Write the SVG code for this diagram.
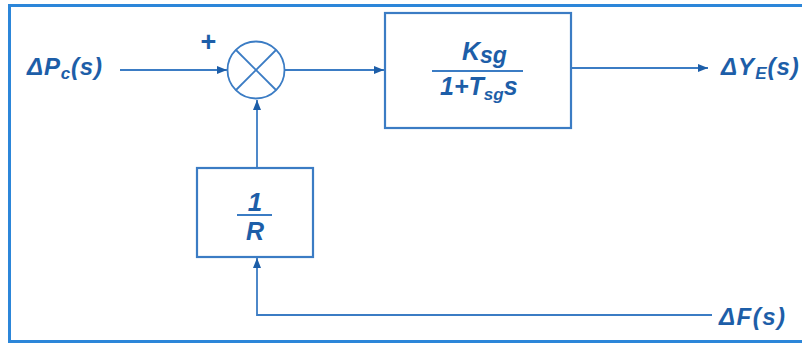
<svg xmlns="http://www.w3.org/2000/svg" width="802" height="345" viewBox="0 0 802 345">
  <style>
    .ln { fill: none; stroke: #3b7cc4; stroke-width: 1.8; }
    .box { fill: #ffffff; stroke: #3b7cc4; stroke-width: 2.2; }
    .t { font-family: "Liberation Sans", Arial, sans-serif; font-weight: bold; font-style: italic; fill: #1d5ea8; }
    .frame { fill: none; stroke: #2c86d9; stroke-width: 3; }
  </style>
  <defs>
    <marker id="arr" viewBox="0 0 10 8" refX="10" refY="4" markerWidth="10" markerHeight="8" markerUnits="userSpaceOnUse" orient="auto">
      <path d="M0,0 L10,4 L0,8 Z" fill="#1d5ea8"/>
    </marker>
  </defs>
  <rect width="802" height="345" fill="#ffffff"/>
  <rect class="frame" x="9.5" y="5.5" width="800" height="336"/>

  <g id="connectors">
    <line class="ln" x1="120" y1="70" x2="227" y2="70" marker-end="url(#arr)"/>
    <line class="ln" x1="285" y1="70" x2="384" y2="70" marker-end="url(#arr)"/>
    <line class="ln" x1="571" y1="68" x2="708" y2="68" marker-end="url(#arr)"/>
    <line class="ln" x1="257" y1="168" x2="257" y2="100" marker-end="url(#arr)"/>
    <polyline class="ln" points="712,315 257,315 257,258" marker-end="url(#arr)"/>
  </g>

  <g id="input-label">
    <text class="t" x="27" y="75" font-size="24" letter-spacing="0.8">ΔP<tspan font-size="17" dy="4">c</tspan><tspan dy="-4">(s)</tspan></text>
  </g>

  <g id="summing-junction">
    <circle cx="256" cy="70" r="28.5" fill="#ffffff" stroke="#3b7cc4" stroke-width="1.8"/>
    <line class="ln" x1="236" y1="50" x2="276" y2="90"/>
    <line class="ln" x1="276" y1="50" x2="236" y2="90"/>
    <text class="t" x="208" y="51" font-size="27" font-style="normal" text-anchor="middle">+</text>
  </g>

  <g id="governor-block">
    <rect class="box" x="385" y="13" width="186" height="115"/>
    <text class="t" x="462" y="60" font-size="25">K<tspan font-size="23" dy="3">sg</tspan></text>
    <line class="ln" x1="432" y1="71" x2="523" y2="71"/>
    <text class="t" x="440" y="95" font-size="25">1+T<tspan font-size="17" dy="5">sg</tspan><tspan dy="-5">s</tspan></text>
  </g>

  <g id="output-label">
    <text class="t" x="721" y="75" font-size="24" letter-spacing="1">ΔY<tspan font-size="17" dy="4">E</tspan><tspan dy="-4">(s)</tspan></text>
  </g>

  <g id="droop-block">
    <rect class="box" x="197" y="168" width="116" height="89"/>
    <text class="t" x="255" y="211" font-size="26" text-anchor="middle">1</text>
    <line class="ln" x1="237" y1="215" x2="272" y2="215"/>
    <text class="t" x="255" y="240" font-size="25" text-anchor="middle">R</text>
  </g>

  <g id="feedback-label">
    <text class="t" x="719" y="325" font-size="24" letter-spacing="1.5">ΔF(s)</text>
  </g>
</svg>
